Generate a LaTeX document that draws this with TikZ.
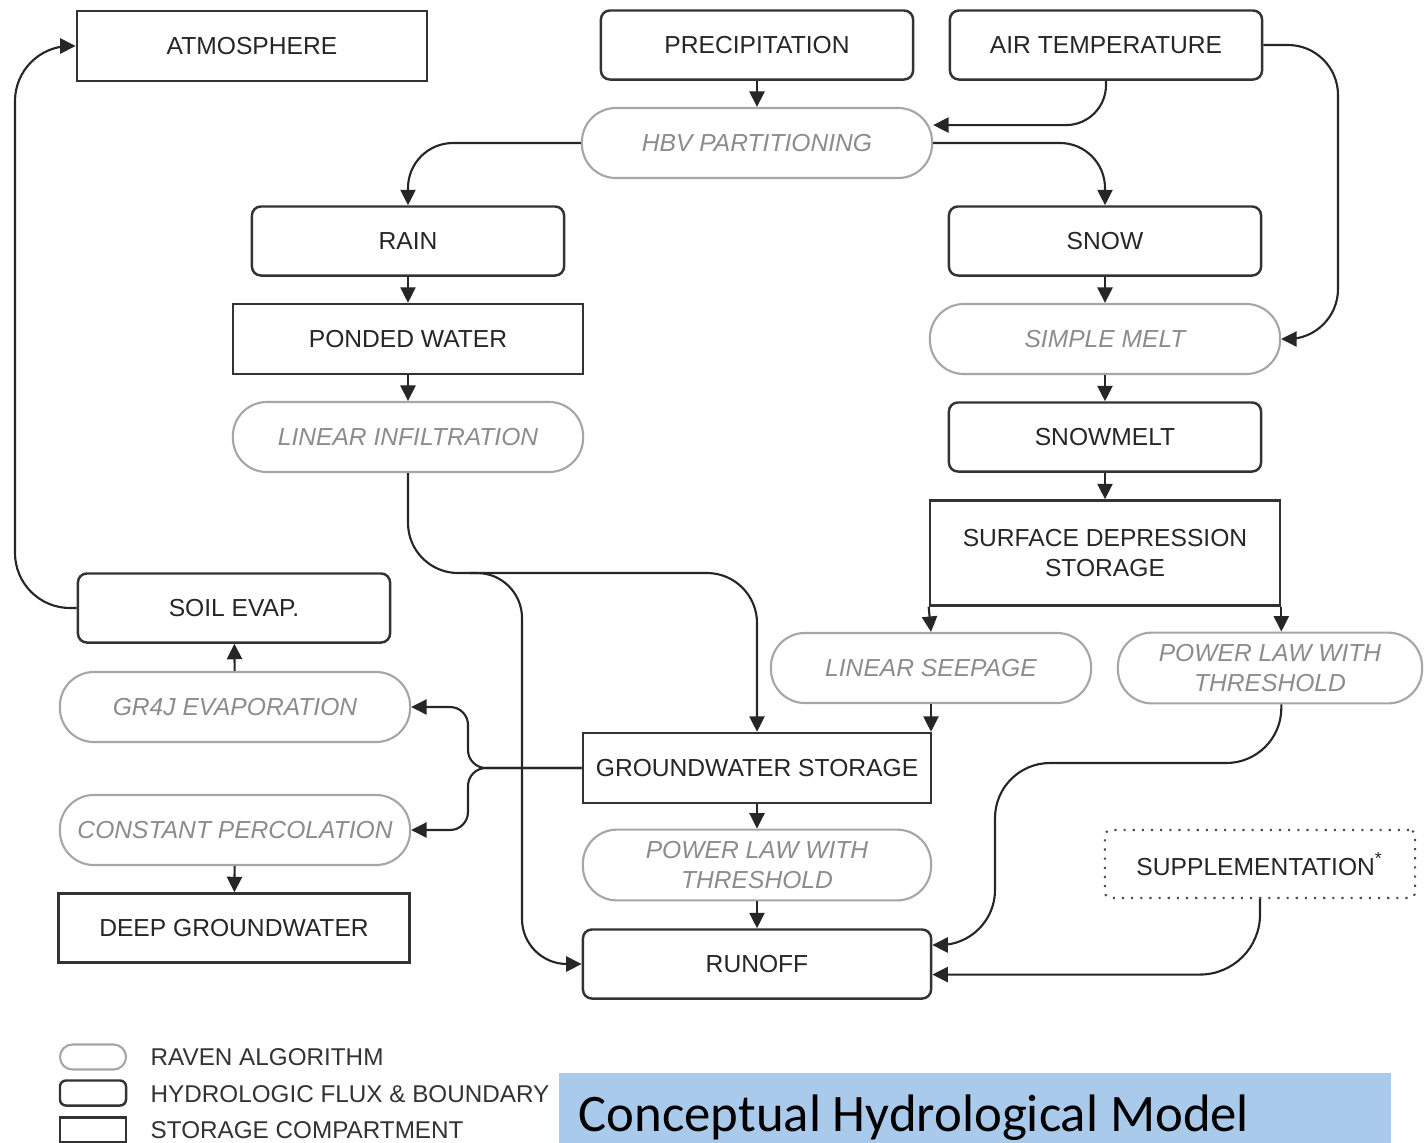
\documentclass[tikz,border=0pt]{standalone}
\usepackage{fontspec}
\setmainfont{Liberation Sans}
\newfontfamily\titlefont{Carlito}
\usepackage{tikz}
\usetikzlibrary{positioning,arrows.meta}
\definecolor{titleblue}{RGB}{169,202,235}

\begin{document}
\begin{tikzpicture}[x=0.01cm,y=-0.01cm,
    flux/.style={draw=black!80, line width=0.7pt, rounded corners=0.9mm, minimum width=3.12cm, minimum height=0.69cm, font=\fontsize{7}{8.5}\selectfont, text=black!85, align=center},
    store/.style={draw=black!80, line width=0.7pt, minimum width=3.5cm, minimum height=0.7cm, font=\fontsize{7}{8.5}\selectfont, text=black!85, align=center},
    algo/.style={draw=black!35, line width=0.6pt, rounded corners=0.34cm, minimum width=3.5cm, minimum height=0.7cm, font=\fontsize{7}{8.5}\selectfont\itshape, text=black!45, align=center},
    suppl/.style={draw=black!70, dotted, line width=0.6pt, rounded corners=0.6mm, minimum width=3.1cm, minimum height=0.68cm, font=\fontsize{7}{8.5}\selectfont, text=black!85},
    conn/.style={-{Triangle[length=4.4pt,width=4.3pt]}, draw=black!85, line width=0.6pt},
    legtext/.style={anchor=west, font=\fontsize{6.9}{8}\selectfont, text=black!80, inner sep=0pt}
  ]

    % Frame of the page
    \useasboundingbox (0,0) rectangle (1427,1142);
    \fill[white] (0,0) rectangle (1427,1142);

    % Boundaries and inputs
    \node[store] (atm) at (252,46) {ATMOSPHERE};
    \node[flux] (precip) at (757,45) {PRECIPITATION};
    \node[flux] (air) at (1106,45) {AIR TEMPERATURE};
    \node[algo] (hbv) at (757,143) {HBV PARTITIONING};

    % Rain branch
    \node[flux] (rain) at (408,241) {RAIN};
    \node[store] (ponded) at (408,339) {PONDED WATER};
    \node[algo] (infil) at (408,437) {LINEAR INFILTRATION};

    % Snow branch
    \node[flux] (snow) at (1105,241) {SNOW};
    \node[algo] (melt) at (1105,339) {SIMPLE MELT};
    \node[flux] (snowmelt) at (1105,437) {SNOWMELT};
    \node[store, minimum height=1.05cm] (sds) at (1105,553) {SURFACE DEPRESSION\\STORAGE};
    \node[algo, minimum width=3.2cm] (seep) at (931,668) {LINEAR SEEPAGE};
    \node[algo, minimum width=3.04cm] (plr) at (1270,668) {POWER LAW WITH\\THRESHOLD};

    % Soil and groundwater
    \node[flux] (soil) at (234,608) {SOIL EVAP.};
    \node[algo] (gr4j) at (235,707) {GR4J EVAPORATION};
    \node[store, minimum width=3.48cm] (gw) at (757,768) {GROUNDWATER STORAGE};
    \node[algo] (perc) at (235,830) {CONSTANT PERCOLATION};
    \node[algo, minimum width=3.48cm] (plm) at (757,865) {POWER LAW WITH\\THRESHOLD};
    \node[store, minimum width=3.51cm, minimum height=0.69cm] (deep) at (234,928) {DEEP GROUNDWATER};
    \node[suppl] (supp) at (1260,864) {SUPPLEMENTATION\textsuperscript{*}};
    \node[flux, minimum width=3.48cm] (runoff) at (757,964) {RUNOFF};

    % Straight fluxes
    \draw[conn] (precip) -- (hbv);
    \draw[conn] (rain) -- (ponded);
    \draw[conn] (ponded) -- (infil);
    \draw[conn] (snow) -- (melt);
    \draw[conn] (melt) -- (snowmelt);
    \draw[conn] (snowmelt) -- (sds);
    \draw[conn] (sds.south west) -- (seep.north);
    \draw[conn] (sds.south east) -- (sds.south east |- plr.north);
    \draw[conn] (seep.south) -- (seep.south |- gw.north);
    \draw[conn] (gr4j) -- (soil);
    \draw[conn] (perc) -- (deep);
    \draw[conn] (gw) -- (plm);
    \draw[conn] (plm) -- (runoff);

    % Bent fluxes
    \coordinate (split) at (470,573);
    \coordinate (gwsplit) at (468,768);
    \draw[conn, rounded corners=0.4cm] (air.south) |- ([yshift=5.1pt]hbv.east);
    \draw[conn, rounded corners=0.5cm] (air.east) -| (1338,339) -- (melt.east);
    \draw[conn, rounded corners=0.45cm] (hbv.west) -| (rain.north);
    \draw[conn, rounded corners=0.45cm] (hbv.east) -| (snow.north);
    \draw[conn, rounded corners=0.5cm] (infil.south) |- (gw.north |- split) -- (gw.north);
    \draw[conn, rounded corners=0.45cm] (split) -| (runoff.west -| 522,0) -- (runoff.west);
    \draw[conn, rounded corners=0.55cm] (plr.south -| sds.south east) |- (995,763) |- ([yshift=5.4pt]runoff.east);
    \draw[conn, rounded corners=0.6cm] (supp.south) |- ([yshift=-3pt]runoff.east);
    \draw[conn, rounded corners=0.18cm] (gw.west) -- (gwsplit) |- (gr4j.east);
    \draw[conn, rounded corners=0.18cm] (gw.west) -- (gwsplit) |- (perc.east);
    \draw[conn, rounded corners=0.55cm] (soil.west) -| (15,46) -- (atm.west);

    % Legend
    \node[algo, minimum width=0.66cm, minimum height=0.25cm, rounded corners=0.125cm, inner sep=0pt] (legalgo) at (93,1057) {};
    \node[flux, minimum width=0.66cm, minimum height=0.25cm, rounded corners=0.6mm, inner sep=0pt] (legflux) at (93,1093) {};
    \node[store, minimum width=0.66cm, minimum height=0.25cm, inner sep=0pt] (legstore) at (93,1130) {};
    \node[legtext] (legalgotxt) at (150,1057) {RAVEN ALGORITHM};
    \node[legtext] (legfluxtxt) at (150,1094) {HYDROLOGIC FLUX \& BOUNDARY};
    \node[legtext] (legstoretxt) at (150,1130) {STORAGE COMPARTMENT};

    % Title
    \node[fill=titleblue, anchor=north west, minimum width=8.32cm, minimum height=0.72cm, inner sep=0pt] (title) at (558,1072) {};
    \node[anchor=base west, inner sep=0pt, font=\titlefont\fontsize{15}{18}\selectfont] (titletext) at (578,1131) {Conceptual Hydrological Model};

  \end{tikzpicture}
\end{document}
